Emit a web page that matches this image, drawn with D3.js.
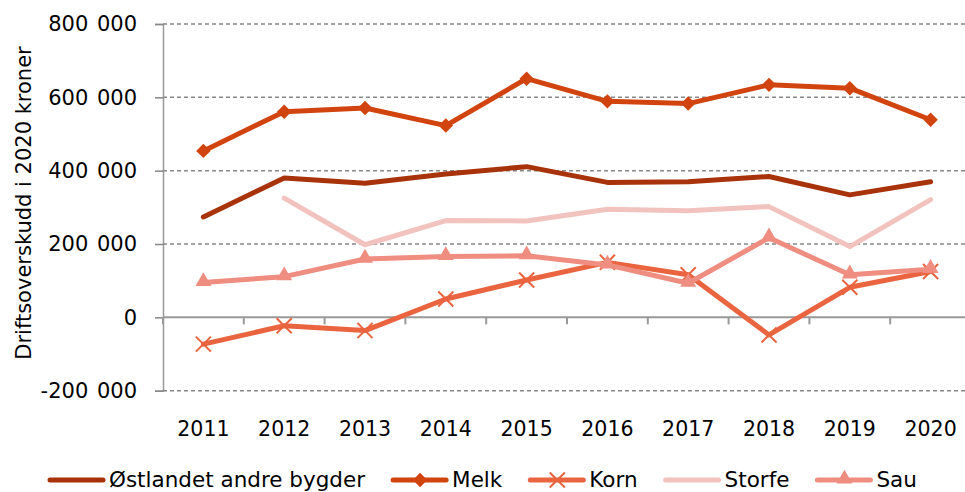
<!DOCTYPE html>
<html>
<head>
<meta charset="utf-8">
<script src="https://d3js.org/d3.v7.min.js"></script>
<style>
  body { margin: 0; background: #fff; }
  text { font-family: "DejaVu Sans", sans-serif; fill: #000; }
</style>
</head>
<body>
<div id="chart"></div>
<script>
// Data
var years = ["2011", "2012", "2013", "2014", "2015", "2016", "2017", "2018", "2019", "2020"];
var ostlandet = [274000, 380000, 366000, 391000, 411000, 368000, 370000, 384000, 334000, 370000];
var melk = [454000, 561000, 571000, 523000, 651000, 589000, 583000, 634000, 625000, 539000];
var korn = [-73000, -23000, -36000, 50000, 102000, 150000, 116000, -48000, 82000, 125000];
var storfe = [null, 325000, 198000, 264000, 263000, 295000, 291000, 302000, 193000, 321000];
var sau = [95000, 111000, 159000, 166000, 168000, 143000, 93000, 217000, 116000, 131000];
var yTicks = [-200000, 0, 200000, 400000, 600000, 800000];
var yTitle = "Driftsoverskudd i 2020 kroner";

var series = [
  { name: "Østlandet andre bygder", values: ostlandet, color: "#A8320A", marker: null },
  { name: "Melk", values: melk, color: "#D2440F", marker: "diamond" },
  { name: "Korn", values: korn, color: "#E9643F", marker: "x" },
  { name: "Storfe", values: storfe, color: "#F2C3BE", marker: null },
  { name: "Sau", values: sau, color: "#EE8D80", marker: "triangle" }
];

var width = 965, height = 492;
var svg = d3.select("#chart").append("svg")
  .attr("width", width)
  .attr("height", height);

var x = d3.scaleBand().domain(years).range([163, 971]);
var y = d3.scaleLinear().domain([-200000, 800000]).range([390.7, 24]);

var fmt = function(d) { return d3.format(",")(d).replace(/,/g, " ").replace("\u2212", "-"); };

// gridlines + y axis
var yAxis = svg.append("g")
  .attr("transform", "translate(163,0)")
  .call(d3.axisLeft(y).tickValues(yTicks).tickSize(8).tickPadding(18).tickFormat(fmt));
yAxis.select(".domain").attr("stroke", "#999").attr("stroke-width", 1.5);
yAxis.selectAll(".tick line").attr("stroke", "#888").attr("stroke-width", 1.5);
yAxis.selectAll(".tick text")
  .attr("font-size", 21)
  .attr("font-family", "DejaVu Sans")
  .attr("word-spacing", 2);

svg.append("g").selectAll("line")
  .data(yTicks.filter(function(d) { return d !== 0; }))
  .enter().append("line")
  .attr("x1", 163).attr("x2", width)
  .attr("y1", function(d) { return y(d); })
  .attr("y2", function(d) { return y(d); })
  .attr("stroke", "#888")
  .attr("stroke-width", 1.5)
  .attr("stroke-dasharray", "4,3");

// zero line with category ticks
svg.append("line")
  .attr("x1", 163).attr("x2", width)
  .attr("y1", y(0)).attr("y2", y(0))
  .attr("stroke", "#999").attr("stroke-width", 2);
svg.append("g").selectAll("line")
  .data(years)
  .enter().append("line")
  .attr("x1", function(d) { return x(d); })
  .attr("x2", function(d) { return x(d); })
  .attr("y1", y(0)).attr("y2", y(0) + 7)
  .attr("stroke", "#999").attr("stroke-width", 2);

// x labels at bottom
var xAxis = svg.append("g")
  .attr("transform", "translate(0," + y(-200000) + ")")
  .call(d3.axisBottom(x).tickSize(0).tickPadding(31));
xAxis.select(".domain").remove();
xAxis.selectAll(".tick text").attr("font-size", 20.5).attr("font-family", "DejaVu Sans");

// y title
svg.append("text")
  .attr("transform", "translate(31,203) rotate(-90)")
  .attr("text-anchor", "middle")
  .attr("font-size", 21)
  .text(yTitle);

// lines
var line = d3.line()
  .defined(function(d) { return d.v !== null; })
  .x(function(d) { return x(d.year) + x.bandwidth() / 2; })
  .y(function(d) { return y(d.v); });

function markerPath(type) {
  if (type === "diamond") return d3.symbol().type(d3.symbolSquare).size(105)();
  if (type === "triangle") return d3.symbol().type(d3.symbolTriangle).size(110)();
  if (type === "x") return d3.symbol().type(d3.symbolX).size(150)();
  return null;
}

function drawMarker(g, type, color, cx, cy) {
  var p = g.append("path")
    .attr("d", markerPath(type));
  if (type === "diamond") {
    p.attr("transform", "translate(" + cx + "," + cy + ") rotate(45)").attr("fill", color);
  } else if (type === "triangle") {
    p.attr("transform", "translate(" + cx + "," + (cy - 1) + ")").attr("fill", color);
  } else {
    p.attr("transform", "translate(" + cx + "," + cy + ")")
      .attr("fill", "none").attr("stroke", color).attr("stroke-width", 2);
  }
}

series.forEach(function(s) {
  var pts = years.map(function(yr, i) { return { year: yr, v: s.values[i] }; });
  var g = svg.append("g");
  g.append("path")
    .datum(pts)
    .attr("d", line)
    .attr("fill", "none")
    .attr("stroke", s.color)
    .attr("stroke-width", 5)
    .attr("stroke-linejoin", "round")
    .attr("stroke-linecap", "round");
  if (s.marker) {
    pts.forEach(function(p) {
      if (p.v === null) return;
      drawMarker(g, s.marker, s.color, x(p.year) + x.bandwidth() / 2, y(p.v));
    });
  }
});

// legend
var lx = 50, ly = 480;
var legend = svg.append("g");
series.forEach(function(s) {
  var g = legend.append("g");
  g.append("line")
    .attr("x1", lx).attr("x2", lx + 53)
    .attr("y1", ly).attr("y2", ly)
    .attr("stroke", s.color).attr("stroke-width", 5)
    .attr("stroke-linecap", "round");
  if (s.marker) drawMarker(g, s.marker, s.color, lx + 27, ly);
  var t = g.append("text")
    .attr("x", lx + 59)
    .attr("y", ly + 7)
    .attr("font-size", 21.5)
    .text(s.name);
  lx += 59 + t.node().getComputedTextLength() + 28;
});
</script>
</body>
</html>
